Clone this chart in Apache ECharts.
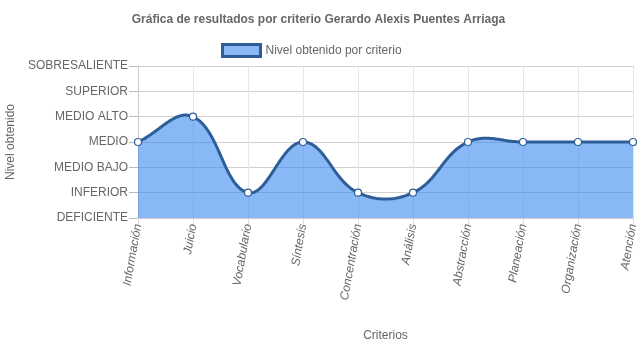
<!DOCTYPE html>
<html><head><meta charset="utf-8">
<script src="https://cdn.jsdelivr.net/npm/echarts@6/dist/echarts.min.js"></script>
<style>html,body{margin:0;padding:0;background:#fff}#c{width:637px;height:348px}</style>
</head><body><div id="c"></div>
<script>
const categories = ['Información','Juicio','Vocabulario','Síntesis','Concentración','Análisis','Abstracción','Planeación','Organización','Atención'];
const levels = ['DEFICIENTE','INFERIOR','MEDIO BAJO','MEDIO','MEDIO ALTO','SUPERIOR','SOBRESALIENTE'];
const values = [3,4,1,3,1,1,3,3,3,3];
const seriesName = 'Nivel obtenido por criterio';

const font = '"Liberation Sans", Arial, Helvetica, sans-serif';
const LINE = '#2e5e99';
const TENSION = 0.4;

// Chart.js-style spline through the points projected by the axes
function buildCurve(api) {
  const pts = values.map((v, i) => api.coord([i, v]));
  const n = pts.length;
  const cps = pts.map((p, i) => {
    const a = pts[Math.max(0, i - 1)], b = pts[Math.min(n - 1, i + 1)];
    const d01 = Math.hypot(p[0] - a[0], p[1] - a[1]);
    const d12 = Math.hypot(b[0] - p[0], b[1] - p[1]);
    const sum = d01 + d12 || 1;
    const fa = TENSION * d01 / sum, fb = TENSION * d12 / sum;
    return {
      prev: [p[0] - fa * (b[0] - a[0]), p[1] - fa * (b[1] - a[1])],
      next: [p[0] + fb * (b[0] - a[0]), p[1] + fb * (b[1] - a[1])]
    };
  });
  const out = [pts[0]];
  for (let i = 0; i < n - 1; i++) {
    const p0 = pts[i], c1 = cps[i].next, c2 = cps[i + 1].prev, p3 = pts[i + 1];
    const steps = 30;
    for (let s = 1; s <= steps; s++) {
      const t = s / steps, u = 1 - t;
      out.push([
        u*u*u*p0[0] + 3*u*u*t*c1[0] + 3*u*t*t*c2[0] + t*t*t*p3[0],
        u*u*u*p0[1] + 3*u*u*t*c1[1] + 3*u*t*t*c2[1] + t*t*t*p3[1]
      ]);
    }
  }
  return out;
}

const chart = echarts.init(document.getElementById('c'), null, {renderer:'canvas'});
chart.setOption({
  animation:false,
  textStyle:{fontFamily:font},
  title:{text:'Gráfica de resultados por criterio Gerardo Alexis Puentes Arriaga',left:'center',top:9,
    textStyle:{fontSize:12,fontWeight:'bold',color:'#666',fontFamily:font}},
  legend:{top:43,left:221,padding:0,itemWidth:38,itemHeight:12,itemGap:8,
    textStyle:{fontSize:12,color:'#666',fontFamily:font},
    data:[{name:seriesName,icon:'rect',itemStyle:{color:'#8ab8f6',borderColor:LINE,borderWidth:3}}]},
  grid:{left:138,right:4,top:66,bottom:130,containLabel:false,outerBoundsMode:'none'},
  xAxis:{type:'category',data:categories,boundaryGap:false,
    name:'Criterios',nameLocation:'middle',nameGap:112,
    nameTextStyle:{fontSize:12,color:'#666',fontFamily:font},
    axisLine:{show:true,lineStyle:{color:'#ccc'}},
    axisTick:{show:true,length:7,lineStyle:{color:'#ddd'}},
    axisLabel:{rotate:80,fontStyle:'italic',fontSize:12,color:'#666',margin:6,fontFamily:font},
    splitLine:{show:true,lineStyle:{color:'#e6e6e6'}}},
  yAxis:{type:'value',min:0,max:6,interval:1,
    name:'Nivel obtenido',nameLocation:'middle',nameGap:118,nameRotate:90,
    nameTextStyle:{fontSize:12,color:'#666',fontFamily:font},
    axisLine:{show:true,lineStyle:{color:'#ccc'}},
    axisTick:{show:true,length:9,lineStyle:{color:'#bbb'}},
    axisLabel:{formatter:v=>levels[v],fontSize:12,color:'#666',margin:10,fontFamily:font},
    splitLine:{show:true,lineStyle:{color:'#d0d0d0'}}},
  series:[
    {type:'custom',name:'curve',data:values.map((v,i)=>[i,v]),z:2,silent:true,
      encode:{x:0,y:1},
      renderItem:function(params, api){
        if (params.dataIndex !== 0) return null;
        const curve = buildCurve(api);
        const base = api.coord([0, 0])[1];
        const first = curve[0], last = curve[curve.length-1];
        const poly = curve.concat([[last[0], base], [first[0], base]]);
        return {type:'group', children:[
          {type:'polygon', shape:{points:poly}, style:{fill:'rgba(40,125,240,0.55)', stroke:null}},
          {type:'polyline', shape:{points:curve}, style:{stroke:LINE, lineWidth:3, fill:null, lineJoin:'round'}}
        ]};
      }},
    {name:seriesName,type:'line',data:values,z:3,
      symbol:'circle',symbolSize:7,showAllSymbol:true,
      lineStyle:{width:0,opacity:0},
      itemStyle:{color:'#fff',borderColor:LINE,borderWidth:1.2}}
  ]
});
</script></body></html>
